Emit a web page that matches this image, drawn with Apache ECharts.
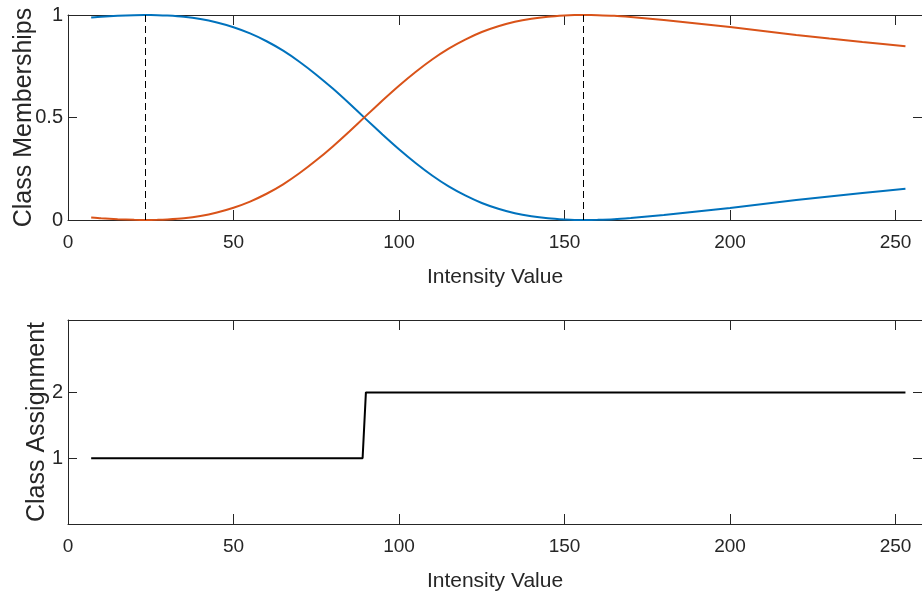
<!DOCTYPE html>
<html>
<head>
<meta charset="utf-8">
<script src="https://cdn.jsdelivr.net/npm/echarts@6/dist/echarts.min.js"></script>
<style>
  html, body { margin: 0; padding: 0; background: #fff; }
  #main { width: 922px; height: 595px; }
</style>
</head>
<body>
<div id="main"></div>
<script>
// intensity samples and fuzzy memberships
var intensity = [7, 10, 15, 20, 23, 27, 30, 35, 40, 45, 50, 55, 60, 65, 70, 75, 80, 85, 90, 95,
  100, 105, 110, 115, 120, 125, 130, 135, 140, 145, 150, 153, 156, 160, 165, 170, 180, 190,
  200, 210, 220, 230, 240, 253];
var class1 = [0.988, 0.992, 0.996, 0.999, 1.000, 0.999, 0.997, 0.991, 0.980, 0.963, 0.940, 0.910,
  0.872, 0.826, 0.771, 0.709, 0.641, 0.568, 0.492, 0.417, 0.345, 0.278, 0.217, 0.164, 0.120,
  0.083, 0.055, 0.033, 0.018, 0.008, 0.002, 0.000, 0.000, 0.001, 0.004, 0.010, 0.024, 0.041,
  0.059, 0.078, 0.097, 0.115, 0.132, 0.152];
var class2 = [0.012, 0.008, 0.004, 0.001, 0.000, 0.001, 0.003, 0.009, 0.020, 0.037, 0.060, 0.090,
  0.128, 0.174, 0.229, 0.291, 0.359, 0.432, 0.508, 0.583, 0.655, 0.722, 0.783, 0.836, 0.880,
  0.917, 0.945, 0.967, 0.982, 0.992, 0.998, 1.000, 1.000, 0.999, 0.996, 0.990, 0.976, 0.959,
  0.941, 0.922, 0.903, 0.885, 0.868, 0.848];
// cluster centres (dashed lines)
var clusterCenters = [23.4, 155.6];
// hard class assignment
var assignX = [7, 89, 90, 253];
var assignY = [1, 1, 2, 2];
// tick labels
var xTicks = [0, 50, 100, 150, 200, 250];
var memberTicks = [0, 0.5, 1];
var assignTicks = [1, 2];

var axisColor = '#262626';
var font = "'Liberation Sans', Arial, sans-serif";

function pairs(xs, ys) {
  return xs.map(function (x, i) { return [x, ys[i]]; });
}

function xAxisFor(gridIndex, position) {
  var bottom = position === 'bottom';
  return {
    type: 'value', gridIndex: gridIndex, position: position,
    min: 0, max: 258,
    name: bottom ? 'Intensity Value' : '',
    nameLocation: 'middle', nameGap: 47,
    nameTextStyle: { fontFamily: font, fontSize: 21, color: axisColor },
    axisLine: { show: true, onZero: false, lineStyle: { color: axisColor, width: 1 } },
    axisTick: { show: true, inside: true, length: 10, customValues: xTicks, lineStyle: { color: axisColor } },
    axisLabel: { show: bottom, customValues: xTicks, margin: 13, fontFamily: font, fontSize: 19, color: axisColor },
    splitLine: { show: false }
  };
}

function yAxisFor(gridIndex, position, max, ticks, title, gap) {
  var left = position === 'left';
  return {
    type: 'value', gridIndex: gridIndex, position: position,
    min: 0, max: max,
    name: left ? title : '',
    nameLocation: 'middle', nameGap: gap, nameMoveOverlap: false,
    nameTextStyle: { fontFamily: font, fontSize: 25, color: axisColor },
    axisLine: { show: true, onZero: false, lineStyle: { color: axisColor, width: 1 } },
    axisTick: { show: true, inside: true, length: 9, customValues: ticks, lineStyle: { color: axisColor } },
    axisLabel: { show: left, customValues: ticks, margin: 5, fontFamily: font, fontSize: 20, color: axisColor },
    splitLine: { show: false }
  };
}

var chart = echarts.init(document.getElementById('main'));
chart.setOption({
  animation: false,
  backgroundColor: '#fff',
  grid: [
    { left: 68, right: 0, top: 15, height: 205, outerBoundsMode: 'none' },
    { left: 68, right: 0, top: 320, height: 204, outerBoundsMode: 'none' }
  ],
  xAxis: [
    xAxisFor(0, 'bottom'), xAxisFor(0, 'top'),
    xAxisFor(1, 'bottom'), xAxisFor(1, 'top')
  ],
  yAxis: [
    yAxisFor(0, 'left', 1, memberTicks, 'Class Memberships', 31),
    yAxisFor(0, 'right', 1, memberTicks, '', 0),
    yAxisFor(1, 'left', 3.1, assignTicks, 'Class Assignment', 18),
    yAxisFor(1, 'right', 3.1, assignTicks, '', 0)
  ],
  series: [
    {
      name: 'Class 1', type: 'line', xAxisIndex: 0, yAxisIndex: 0,
      data: pairs(intensity, class1), smooth: 0.2, showSymbol: false,
      lineStyle: { color: '#0072BD', width: 2 },
      markLine: {
        silent: true, symbol: 'none', label: { show: false },
        lineStyle: { color: '#000', width: 1, type: [7, 4] },
        data: clusterCenters.map(function (c) { return { xAxis: c }; })
      }
    },
    {
      name: 'Class 2', type: 'line', xAxisIndex: 0, yAxisIndex: 0,
      data: pairs(intensity, class2), smooth: 0.2, showSymbol: false,
      lineStyle: { color: '#D95319', width: 2 }
    },
    {
      name: 'Assignment', type: 'line', xAxisIndex: 2, yAxisIndex: 2,
      data: pairs(assignX, assignY), showSymbol: false,
      lineStyle: { color: '#000', width: 2 }
    }
  ]
});
</script>
</body>
</html>
